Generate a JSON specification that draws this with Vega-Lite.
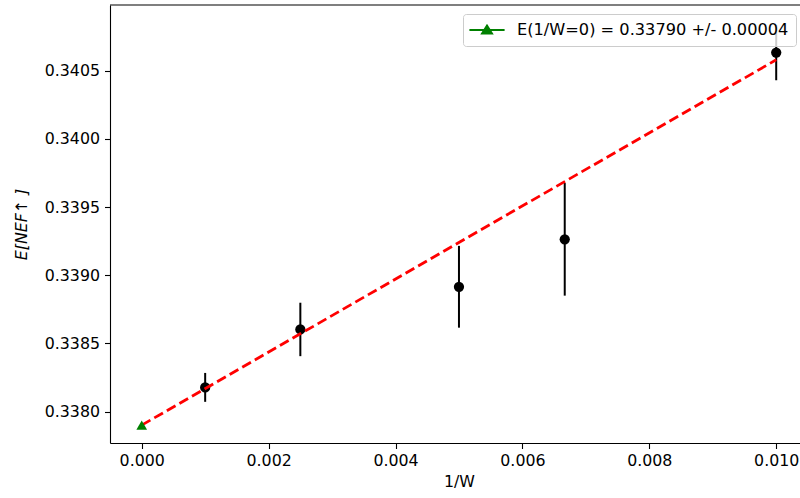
{
  "$schema": "https://vega.github.io/schema/vega-lite/v6.json",
  "width": 690,
  "height": 438,
  "autosize": "none",
  "padding": {"left": 110, "top": 5, "right": 0, "bottom": 55},
  "background": "white",
  "config": {
    "view": {"stroke": null},
    "font": "DejaVu Sans",
    "axis": {
      "domainColor": "black",
      "domainWidth": 1.1,
      "tickColor": "black",
      "tickWidth": 1.1,
      "tickSize": 5.5,
      "labelColor": "black",
      "labelFont": "DejaVu Sans",
      "labelFontSize": 15.8,
      "labelPadding": 5,
      "titleFont": "DejaVu Sans",
      "titleFontSize": 15.8,
      "titleFontWeight": "normal",
      "titleColor": "black",
      "grid": false
    }
  },
  "datasets": {
    "points": [
      {"invW": 0.001, "E": 0.338177, "err": 0.000106},
      {"invW": 0.0025, "E": 0.338602, "err": 0.000196},
      {"invW": 0.005, "E": 0.338915, "err": 0.000300},
      {"invW": 0.006667, "E": 0.339263, "err": 0.000413},
      {"invW": 0.01, "E": 0.340633, "err": 0.000203}
    ],
    "fit": [
      {"invW": 0.0, "E": 0.33790},
      {"invW": 0.01, "E": 0.34058}
    ],
    "extrap": [
      {"invW": 0.0, "E": 0.33790, "label": "E(1/W=0) = 0.33790 +/- 0.00004"}
    ],
    "frame": [
      {"top": 0.340982}
    ]
  },
  "layer": [
    {
      "data": {"name": "points"},
      "mark": {"type": "errorbar", "ticks": false, "thickness": 2, "color": "black"},
      "encoding": {
        "x": {
          "field": "invW",
          "type": "quantitative",
          "scale": {"domain": [-0.0005, 0.010375], "nice": false, "zero": false},
          "axis": {"title": "1/W", "values": [0, 0.002, 0.004, 0.006, 0.008, 0.01], "format": ".3f", "titlePadding": 6, "titleX": 349}
        },
        "y": {
          "field": "E",
          "type": "quantitative",
          "scale": {"domain": [0.337769, 0.340982], "nice": false, "zero": false},
          "axis": {"title": "E[NEF↑ ]", "titleFontStyle": "italic", "values": [0.338, 0.3385, 0.339, 0.3395, 0.34, 0.3405], "format": ".4f", "titlePadding": 15}
        },
        "yError": {"field": "err"}
      }
    },
    {
      "data": {"name": "points"},
      "mark": {"type": "circle", "size": 105, "color": "black", "opacity": 1},
      "encoding": {
        "x": {"field": "invW", "type": "quantitative"},
        "y": {"field": "E", "type": "quantitative"}
      }
    },
    {
      "data": {"name": "fit"},
      "mark": {"type": "line", "color": "red", "strokeWidth": 2.8, "strokeDash": [10, 4.5]},
      "encoding": {
        "x": {"field": "invW", "type": "quantitative"},
        "y": {"field": "E", "type": "quantitative"}
      }
    },
    {
      "data": {"name": "frame"},
      "mark": {"type": "rule", "color": "black", "strokeWidth": 1.1},
      "encoding": {
        "y": {"field": "top", "type": "quantitative"}
      }
    },
    {
      "data": {"name": "extrap"},
      "mark": {"type": "point", "shape": "triangle-up", "filled": true, "size": 115, "opacity": 1},
      "encoding": {
        "x": {"field": "invW", "type": "quantitative"},
        "y": {"field": "E", "type": "quantitative"},
        "color": {
          "field": "label",
          "type": "nominal",
          "scale": {"range": ["green"]},
          "legend": {
            "title": null,
            "orient": "none",
            "legendX": 353,
            "legendY": 9,
            "fillColor": "rgba(255,255,255,0.8)",
            "strokeColor": "#cccccc",
            "cornerRadius": 3,
            "padding": 7,
            "labelFont": "DejaVu Sans",
            "labelFontSize": 16.2,
            "labelColor": "black",
            "labelLimit": 400,
            "labelOffset": 29,
            "symbolType": "M-1.2,0H3.2M0.38,0.45L1,-0.55L1.62,0.45Z",
            "symbolSize": 256,
            "symbolStrokeWidth": 2,
            "symbolStrokeColor": "green",
            "symbolFillColor": "green"
          }
        }
      }
    }
  ]
}
